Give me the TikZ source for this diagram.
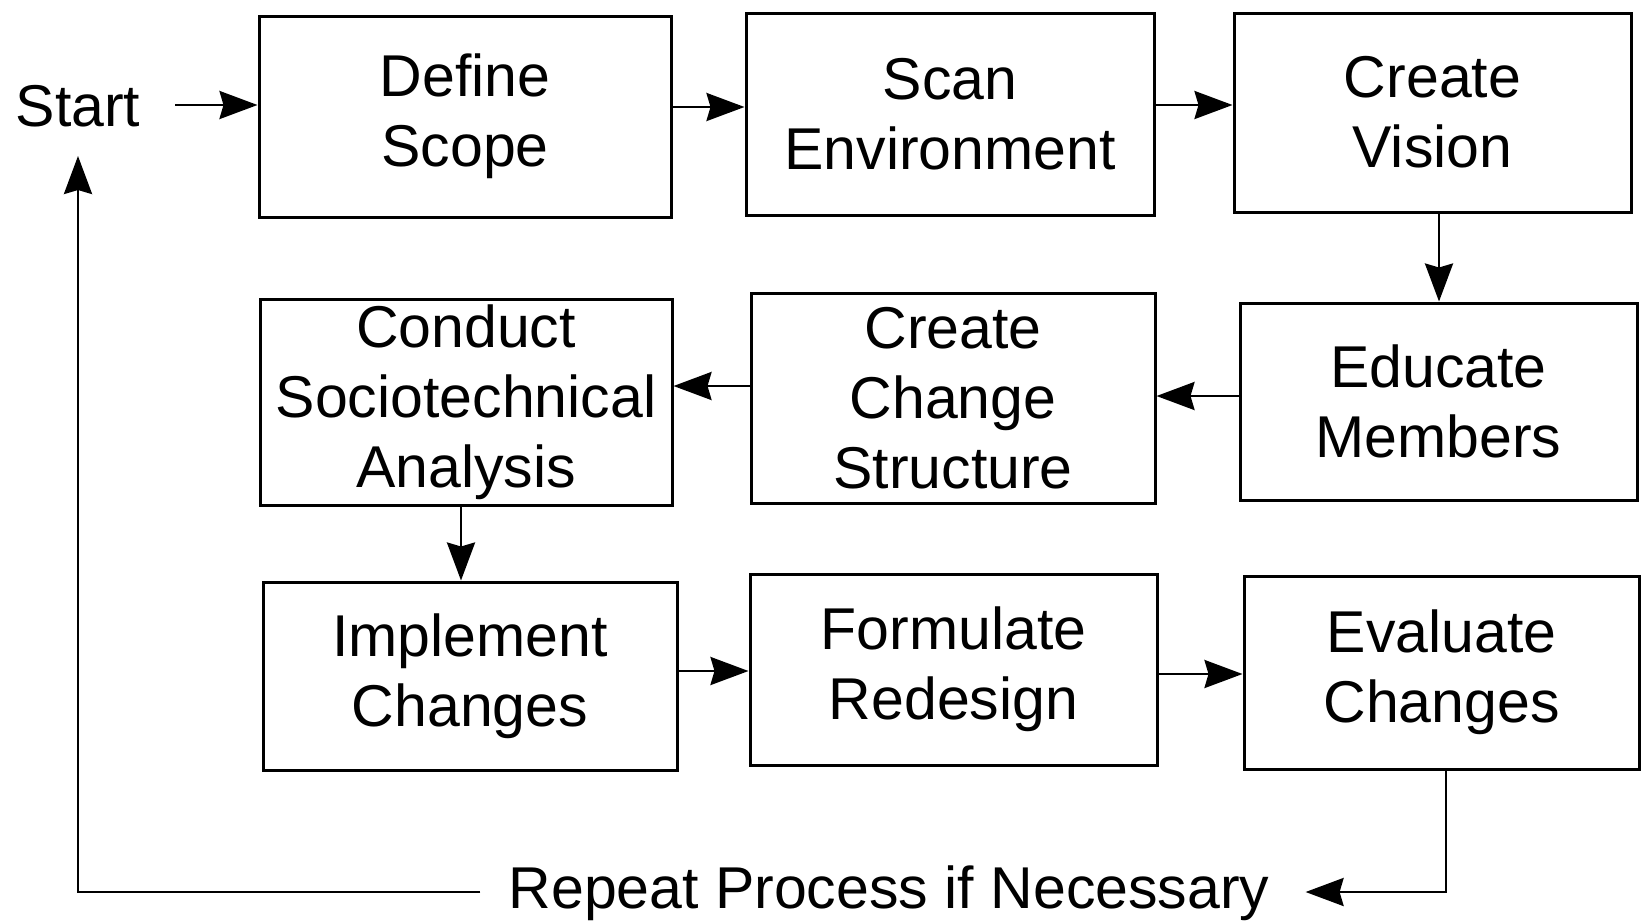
\documentclass[tikz,border=0pt]{standalone}
\usepackage{fontspec}
\setmainfont{Liberation Sans}
\usetikzlibrary{arrows.meta}
\begin{document}
\begin{tikzpicture}[x=1pt,y=-1pt,
  box/.style={draw, line width=3pt, inner sep=0pt, align=center,
    font=\fontsize{59}{70}\selectfont},
  lbl/.style={inner sep=0pt, font=\fontsize{59}{70}\selectfont},
  conn/.style={line width=2.8pt, -{Stealth[length=38pt,width=28pt,inset=4pt]}},
  plain/.style={line width=2.8pt}]
\useasboundingbox (0,0) rectangle (1643,922);
\fill[white] (0,0) rectangle (1643,922);
% row 1
\node[box, minimum width=412pt, minimum height=201pt] (ds) at (465,116.5) {Define\\Scope};
\node[box, minimum width=408pt, minimum height=202pt] (se) at (950,114) {Scan\\Environment};
\node[box, minimum width=397pt, minimum height=199pt] (cv) at (1432.5,112.5) {Create\\Vision};
% row 2
\node[box, minimum width=412pt, minimum height=206pt] (ca) at (466,402) {Conduct\\Sociotechnical\\Analysis};
\node[box, minimum width=404pt, minimum height=210pt] (cc) at (953,398) {Create\\Change\\Structure};
\node[box, minimum width=397pt, minimum height=197pt] (em) at (1438.5,401.5) {Educate\\Members};
% row 3
\node[box, minimum width=414pt, minimum height=188pt] (ic) at (470,676) {Implement\\Changes};
\node[box, minimum width=407pt, minimum height=191pt] (fr) at (953.5,669.5) {Formulate\\Redesign};
\node[box, minimum width=395pt, minimum height=193pt] (ec) at (1441.5,672.5) {Evaluate\\Changes};
% labels
\node[lbl, anchor=base] (start) at (78,126) {Start};
\node[lbl, anchor=base] (rep) at (889,908) {Repeat Process if Necessary};
\coordinate (sa) at (175,105);
\coordinate (bl) at (78,892);
\coordinate (br) at (1446,892);
\coordinate (st) at (78,156);
% connectors
\draw[conn] (sa) -- (ds.west |- sa);
\draw[conn] (ds.east |- 0,107) -- (se.west |- 0,107);
\draw[conn] (se.east |- 0,105) -- (cv.west |- 0,105);
\draw[conn] (cv.south -| 1439,0) -- (em.north -| 1439,0);
\draw[conn] (em.west |- 0,396) -- (cc.east |- 0,396);
\draw[conn] (cc.west |- 0,386) -- (ca.east |- 0,386);
\draw[conn] (ca.south -| 461,0) -- (ic.north -| 461,0);
\draw[conn] (ic.east |- 0,671) -- (fr.west |- 0,671);
\draw[conn] (fr.east |- 0,674) -- (ec.west |- 0,674);
\draw[conn] (ec.south -| br) -- (br) -- ([xshift=36pt]rep.east |- br);
\draw[conn] ([xshift=-28pt]rep.west |- bl) -- (bl) -- (st);
\end{tikzpicture}
\end{document}
